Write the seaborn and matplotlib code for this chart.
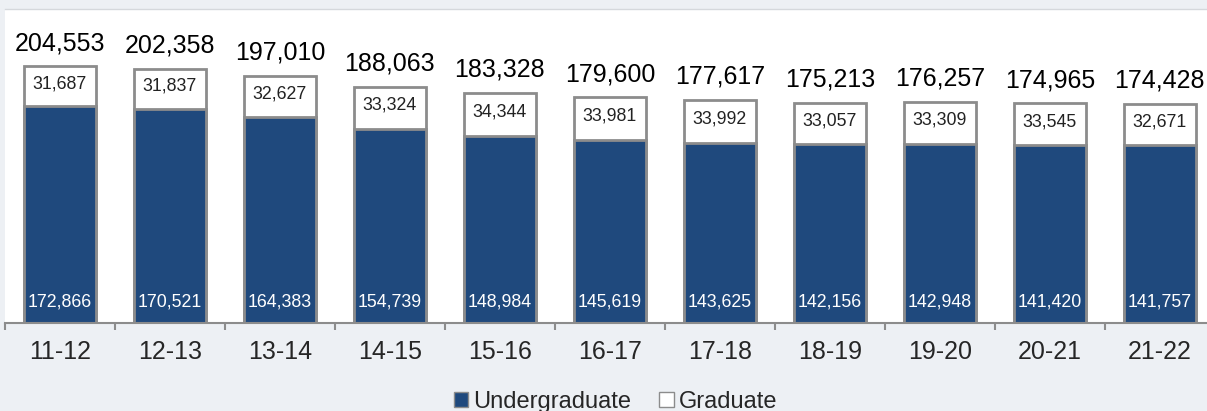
import numpy as np
import pandas as pd
import matplotlib
matplotlib.use("Agg")
import matplotlib.pyplot as plt
from matplotlib.patches import Patch
import seaborn as sns

# data
years = ["11-12", "12-13", "13-14", "14-15", "15-16", "16-17",
         "17-18", "18-19", "19-20", "20-21", "21-22"]
undergrad = [172866, 170521, 164383, 154739, 148984, 145619,
             143625, 142156, 142948, 141420, 141757]
graduate = [31687, 31837, 32627, 33324, 34344, 33981,
            33992, 33057, 33309, 33545, 32671]

df = pd.DataFrame({"year": years, "Undergraduate": undergrad, "Graduate": graduate})
df["total"] = df["Undergraduate"] + df["Graduate"]

blue = "#1F497D"
edge = "#8C8C8C"
bg = "#EDF0F4"

sns.set_theme(style="white")
plt.rcParams["font.family"] = ["Liberation Sans", "DejaVu Sans"]

fig = plt.figure(figsize=(12.07, 4.11), dpi=100, facecolor=bg)
ax = fig.add_axes([0.004, 0.214, 1.0025, 0.764])
ax.set_facecolor("white")

# graduate box = full stack, undergraduate drawn over it
sns.barplot(data=df, x="year", y="total", color="white", edgecolor=edge,
            linewidth=2, width=0.65, saturation=1, ax=ax)
sns.barplot(data=df, x="year", y="Undergraduate", color=blue, edgecolor=edge,
            linewidth=2, width=0.65, saturation=1, ax=ax)

ax.set_ylim(0, 250000)
ax.set_xlim(-0.5, len(years) - 0.5)
ax.set_xlabel("")
ax.set_ylabel("")
ax.set_yticks([])

for i, row in df.iterrows():
    ax.annotate(f"{row['total']:,}", (i, row["total"]), xytext=(0, 8),
                textcoords="offset points", ha="center", va="bottom",
                fontsize=18, color="black")
    ax.text(i, row["Undergraduate"] + row["Graduate"] / 2 + 2000, f"{row['Graduate']:,}",
            ha="center", va="center", fontsize=12.8, color="#222222")
    ax.annotate(f"{row['Undergraduate']:,}", (i, 0), xytext=(0, 15),
                textcoords="offset points", ha="center", va="center",
                fontsize=12.8, color="white")

# tick marks between categories, labels centred
ax.set_xticks(range(len(years)))
ax.set_xticklabels(years, fontsize=18)
ax.tick_params(axis="x", which="major", length=0, pad=12)
ax.set_xticks(np.arange(-0.5, len(years), 1), minor=True)
ax.tick_params(axis="x", which="minor", length=5, width=1.5, color=edge, bottom=True)

for s in ["left", "right"]:
    ax.spines[s].set_visible(False)
ax.spines["bottom"].set_color(edge)
ax.spines["bottom"].set_linewidth(1.5)
ax.spines["top"].set_color("#D5D8DC")
ax.spines["top"].set_linewidth(1)

handles = [Patch(facecolor=blue, edgecolor=edge, label="Undergraduate"),
           Patch(facecolor="white", edgecolor=edge, label="Graduate")]
fig.legend(handles=handles, loc="center", bbox_to_anchor=(0.51, 0.022), ncol=2,
           frameon=False, fontsize=17, handlelength=0.6, handleheight=0.6,
           handletextpad=0.2, columnspacing=1.2)

fig.savefig("out.png", dpi=100, facecolor=bg)
